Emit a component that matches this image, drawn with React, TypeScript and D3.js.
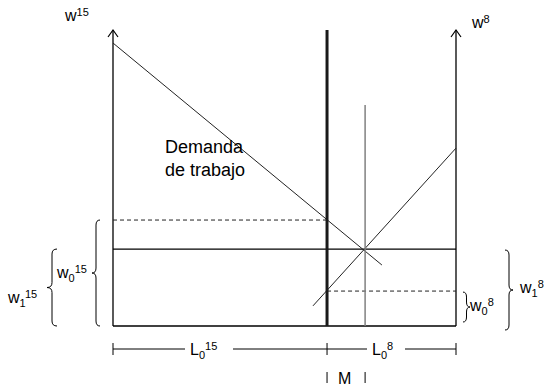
import React from "react";
import * as d3 from "d3";

// labour market diagram: two regions (w15 on the left, w8 on the right)
const laborDomain = [0, 100];
const wageDomain = [0, 100];

const demand15 = [
  { L: 0, w: 95.6 },
  { L: 78.4, w: 20.6 },
];
const supply8 = [
  { L: 58.3, w: 6.8 },
  { L: 100, w: 60.1 },
];

const wageLevels = { w1: 26, w0_15: 35.8, w0_8: 11.8 };
const laborLevels = { L0: 62.4, L1: 73.5, grayTop: 74.7 };

const W = 548;
const H = 386;

const x = d3.scaleLinear().domain(laborDomain).range([113, 456]);
const y = d3.scaleLinear().domain(wageDomain).range([326, 30]);

const line = d3
  .line<{ L: number; w: number }>()
  .x((d) => x(d.L))
  .y((d) => y(d.w));

const font = "'Liberation Sans', Arial, sans-serif";

// vertical curly brace, dir=-1 tip left "{", dir=1 tip right "}"
function brace(x0: number, y1: number, y2: number, w: number, dir: number) {
  const xs = x0 + (dir * w) / 2;
  const xt = x0 + dir * w;
  const ym = (y1 + y2) / 2;
  const r = 5;
  return `M${x0},${y1} Q${xs},${y1} ${xs},${y1 + r} L${xs},${ym - r} Q${xs},${ym} ${xt},${ym} Q${xs},${ym} ${xs},${ym + r} L${xs},${y2 - r} Q${xs},${y2} ${x0},${y2}`;
}

function Label({ x, y, base, sub, sup, size = 16, ss = 11 }: any) {
  return (
    <text x={x} y={y} fontSize={size} fontFamily={font} fill="#000">
      {base}
      {sub && (
        <tspan fontSize={ss} dy={4}>
          {sub}
        </tspan>
      )}
      {sup && (
        <tspan fontSize={ss} dy={sub ? -9 : -5}>
          {sup}
        </tspan>
      )}
    </text>
  );
}

export default function App() {
  const y0 = y(0);
  const yw1 = y(wageLevels.w1);
  const yw015 = y(wageLevels.w0_15);
  const yw08 = y(wageLevels.w0_8);
  const xL0 = x(laborLevels.L0);
  const xL1 = x(laborLevels.L1);
  const xl = x(0);
  const xr = x(100);
  const top = y(100);
  const by = 349;

  return (
    <svg
      width={W}
      height={H}
      style={{ position: "absolute", left: 0, top: 0, background: "#fff" }}
    >
      {/* axes */}
      <line x1={xl} x2={xl} y1={top} y2={y0} stroke="#000" strokeWidth={1.3} />
      <line x1={xr} x2={xr} y1={top} y2={y0} stroke="#000" strokeWidth={1.3} />
      <line x1={xl} x2={xr} y1={y0} y2={y0} stroke="#000" strokeWidth={1.5} />
      {[xl, xr].map((ax) => (
        <path
          key={ax}
          d={`M${ax - 5},${top + 7} L${ax},${top} L${ax + 5},${top + 7}`}
          fill="none"
          stroke="#000"
          strokeWidth={1.2}
        />
      ))}

      {/* wage levels */}
      <line x1={xl} x2={xr} y1={yw1} y2={yw1} stroke="#000" strokeWidth={1.3} />
      <line x1={xl} x2={xL0} y1={yw015} y2={yw015} stroke="#222" strokeWidth={1} strokeDasharray="4 3" />
      <line x1={xL0} x2={xr} y1={yw08} y2={yw08} stroke="#222" strokeWidth={1} strokeDasharray="4 3" />

      {/* demand and supply */}
      <path d={line(demand15) || ""} fill="none" stroke="#222" strokeWidth={1} />
      <path d={line(supply8) || ""} fill="none" stroke="#222" strokeWidth={1} />

      {/* verticals */}
      <line x1={xL1} x2={xL1} y1={y(laborLevels.grayTop)} y2={y0} stroke="#808080" strokeWidth={1.5} />
      <line x1={xL0} x2={xL0} y1={top} y2={y0} stroke="#1a1a1a" strokeWidth={3} />

      {/* braces */}
      <path d={brace(100, yw015, y0, 8, -1)} fill="none" stroke="#000" strokeWidth={1} />
      <path d={brace(57, yw1, y0, 10, -1)} fill="none" stroke="#000" strokeWidth={1} />
      <path d={brace(463, yw08 + 1, y0 - 4, 7, 1)} fill="none" stroke="#000" strokeWidth={1} />
      <path d={brace(505, yw1 + 1, y0 + 4, 8, 1)} fill="none" stroke="#000" strokeWidth={1} />

      {/* labels */}
      <Label x={65} y={21} base="w" sup="15" />
      <Label x={472} y={28} base="w" sup="8" />
      <text x={165} y={153} fontSize={18} fontFamily={font}>
        Demanda
      </text>
      <text x={165} y={176} fontSize={18} fontFamily={font}>
        de trabajo
      </text>
      <Label x={57} y={278} base="w" sub="0" sup="15" />
      <Label x={8} y={303} base="w" sub="1" sup="15" />
      <Label x={470} y={311} base="w" sub="0" sup="8" />
      <Label x={520} y={293} base="w" sub="1" sup="8" />

      {/* bottom measure */}
      {[
        [xl, 185],
        [233, 367],
        [405, xr],
      ].map(([a, b], i) => (
        <line key={i} x1={a} x2={b} y1={by} y2={by} stroke="#000" strokeWidth={1} />
      ))}
      {[xl, xL0, xr].map((t) => (
        <line key={t} x1={t} x2={t} y1={by - 6} y2={by + 6} stroke="#000" strokeWidth={1} />
      ))}
      <Label x={190} y={355} base="L" sub="0" sup="15" />
      <Label x={372} y={355} base="L" sub="0" sup="8" />
      {[xL0, xL1].map((t) => (
        <line key={t} x1={t} x2={t} y1={372} y2={383} stroke="#000" strokeWidth={1} />
      ))}
      <text x={338} y={384} fontSize={16} fontFamily={font}>
        M
      </text>
    </svg>
  );
}
